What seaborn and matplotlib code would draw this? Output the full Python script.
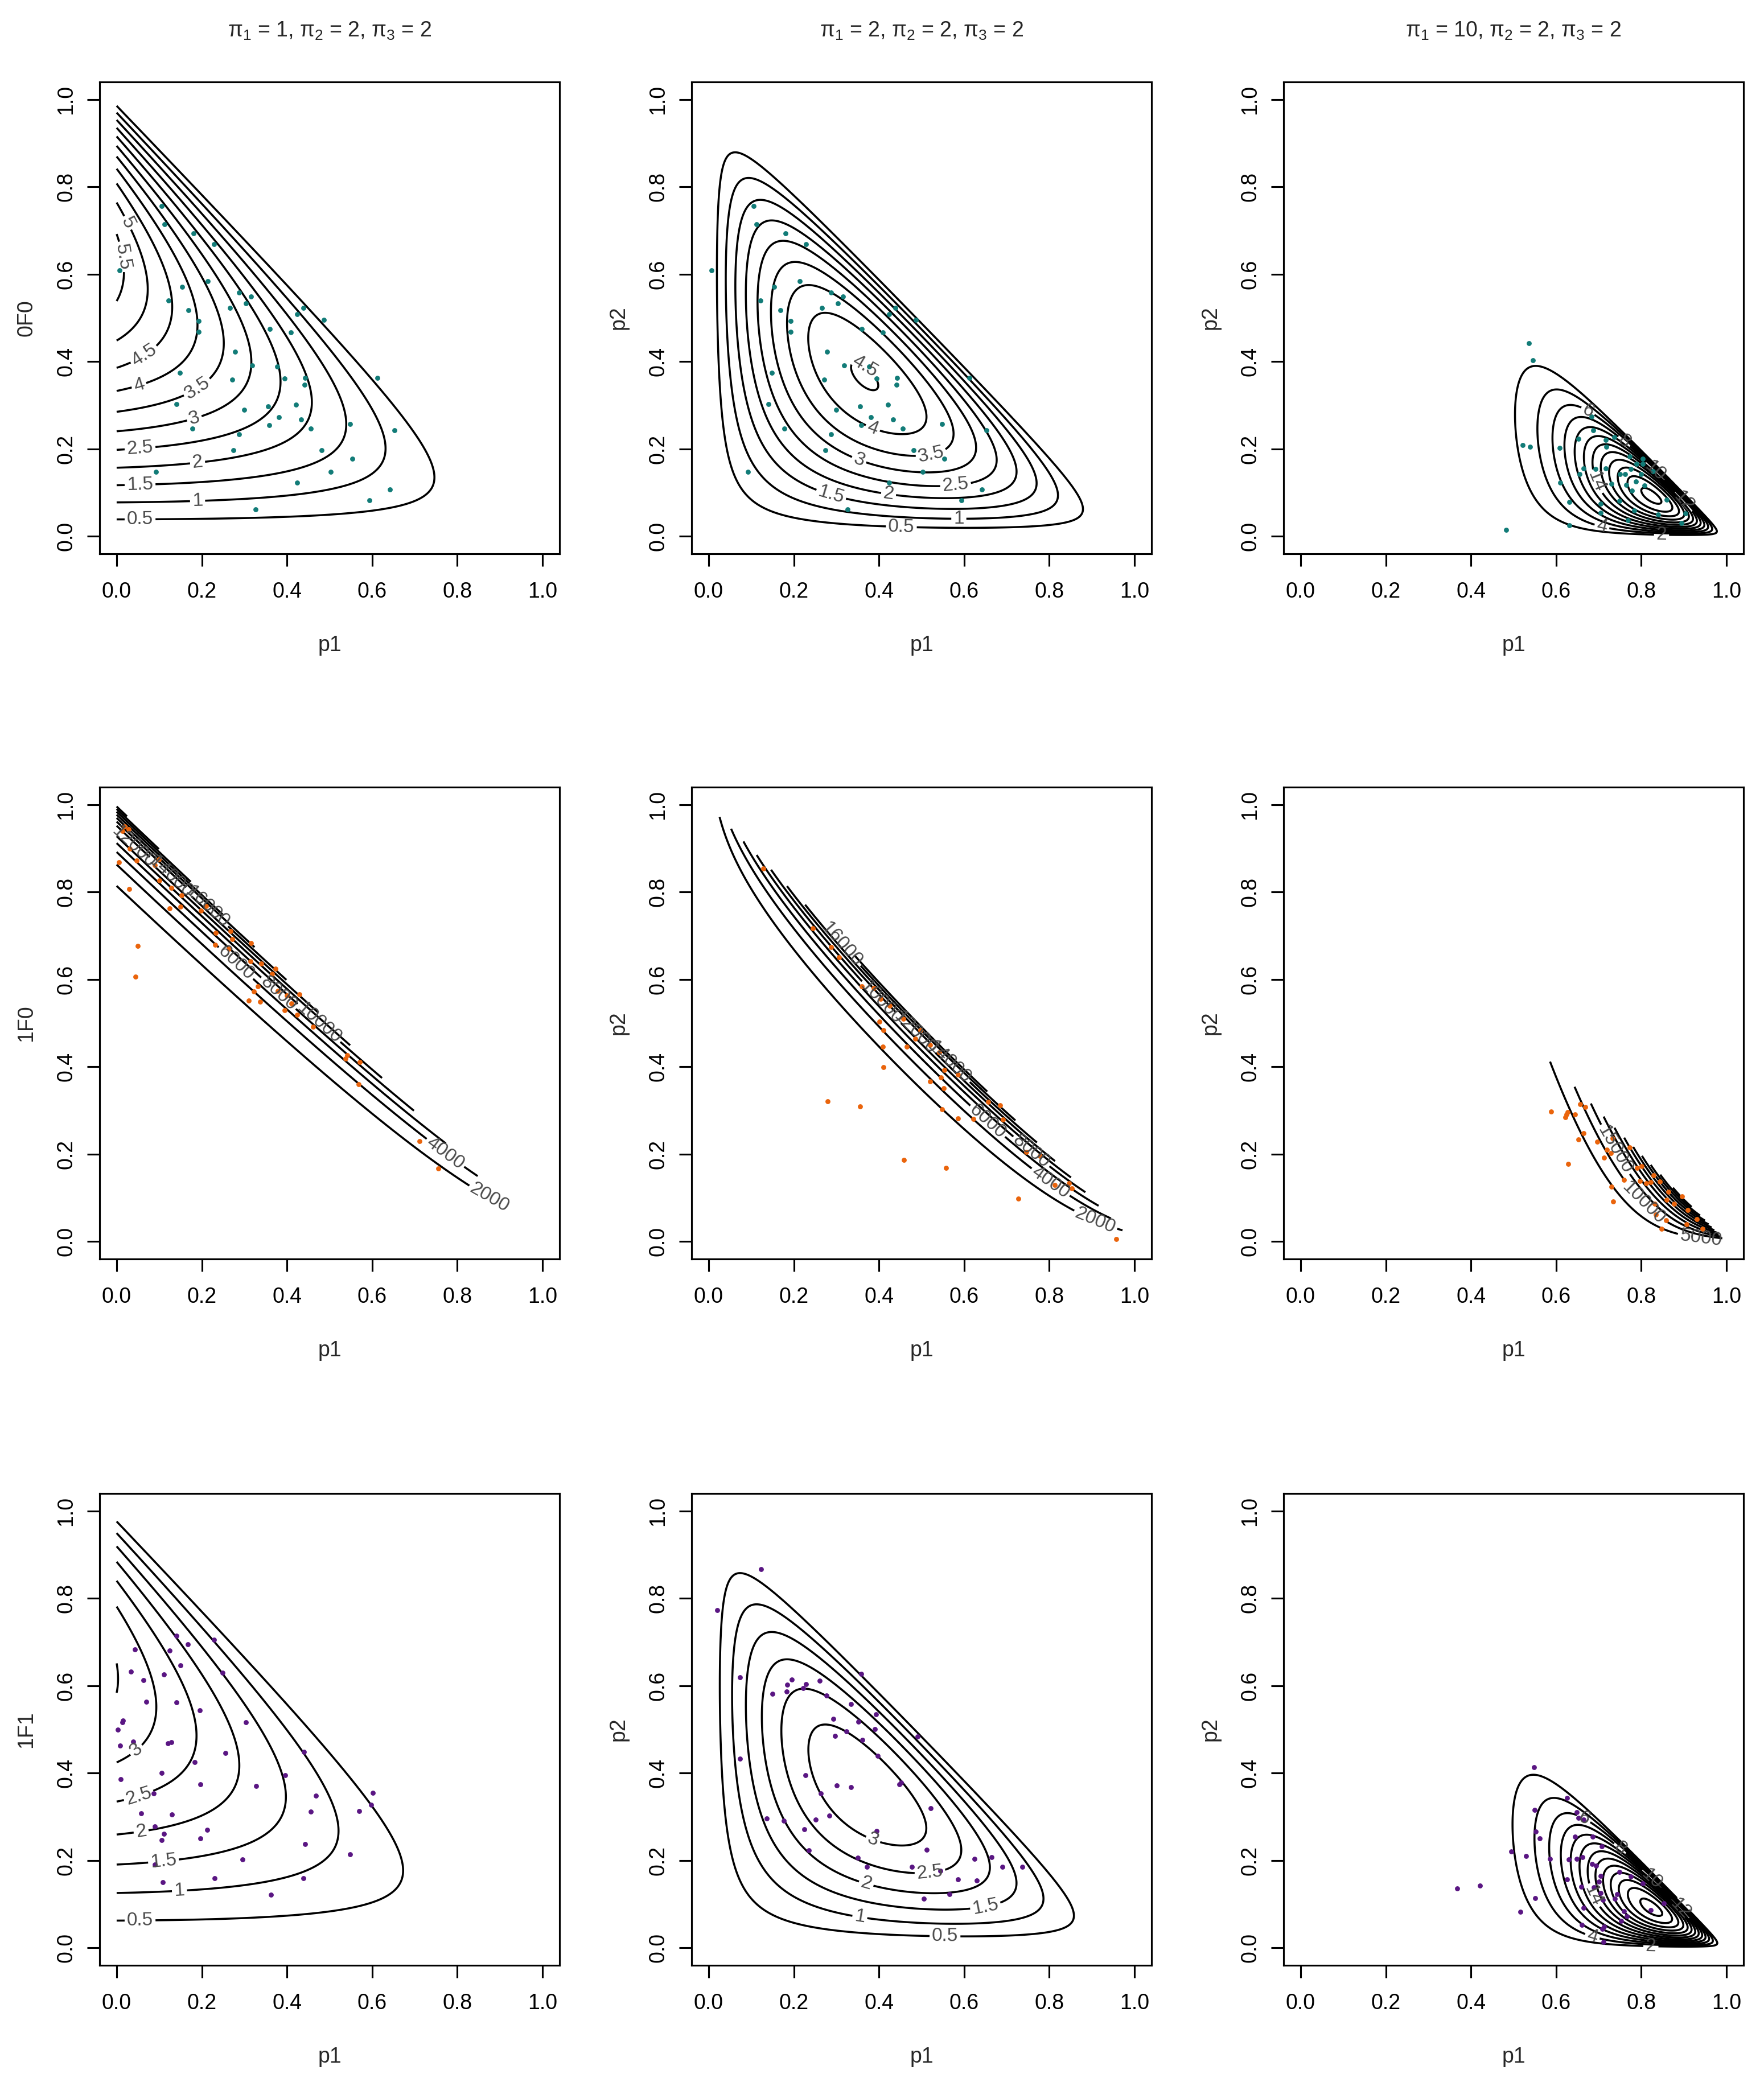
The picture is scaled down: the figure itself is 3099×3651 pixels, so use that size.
import numpy as np
import matplotlib
matplotlib.use("Agg")
import matplotlib.pyplot as plt
from matplotlib.ticker import FormatStrFormatter
import seaborn as sns
from math import gamma

# --------------------------------------------------
# values
# --------------------------------------------------

pi_sets = [(1, 2, 2), (2, 2, 2), (10, 2, 2)]
row_names = ["0F0", "1F0", "1F1"]
row_colors = ["#127C78", "#EA640C", "#5A1683"]

# contour spacing for each panel (rows x columns)
level_steps = [[0.5, 0.5, 2], [2000, 2000, 5000], [0.5, 0.5, 2]]

# 1F0 row: exponential tilt towards the p1 + p2 = 1 edge and overall scale
tilt_1f0 = [13.0, 13.0, 6.0]
scale_1f0 = 13800.0
# 1F1 row: weights of the exp(-p3) tilted Dirichlet kernel
weights_1f1 = [0.91, 1.03, 1.25]

# sampled points, row 1 (same sample in columns 1 and 2)
r1_x = [0.106, 0.113, 0.180, 0.229, 0.007, 0.214, 0.154, 0.122, 0.288, 0.315,
        0.303, 0.266, 0.169, 0.438, 0.424, 0.487, 0.193, 0.193, 0.360, 0.409,
        0.278, 0.318, 0.377, 0.149, 0.271, 0.395, 0.443, 0.441, 0.612, 0.141,
        0.299, 0.356, 0.421, 0.381, 0.433, 0.358, 0.456, 0.178, 0.287, 0.548,
        0.653, 0.274, 0.481, 0.553, 0.092, 0.503, 0.424, 0.642, 0.593, 0.326]
r1_y = [0.756, 0.714, 0.694, 0.669, 0.609, 0.584, 0.571, 0.540, 0.558, 0.549,
        0.533, 0.523, 0.518, 0.523, 0.509, 0.496, 0.493, 0.468, 0.475, 0.467,
        0.423, 0.391, 0.389, 0.374, 0.359, 0.361, 0.362, 0.347, 0.362, 0.303,
        0.290, 0.297, 0.301, 0.273, 0.267, 0.254, 0.247, 0.247, 0.234, 0.257,
        0.243, 0.197, 0.197, 0.178, 0.147, 0.147, 0.123, 0.107, 0.083, 0.061]

r1c3_x = [0.536, 0.546, 0.522, 0.539, 0.608, 0.483, 0.683, 0.687, 0.653, 0.717,
          0.718, 0.736, 0.665, 0.655, 0.693, 0.717, 0.609, 0.631, 0.631, 0.705,
          0.705, 0.730, 0.750, 0.762, 0.764, 0.778, 0.776, 0.787, 0.799, 0.807,
          0.773, 0.789, 0.749, 0.783, 0.769, 0.839, 0.860, 0.903, 0.894, 0.803,
          0.828, 0.804]
r1c3_y = [0.442, 0.403, 0.209, 0.205, 0.202, 0.015, 0.274, 0.243, 0.223, 0.221,
          0.205, 0.227, 0.155, 0.143, 0.154, 0.156, 0.123, 0.078, 0.025, 0.075,
          0.054, 0.120, 0.143, 0.143, 0.118, 0.104, 0.154, 0.126, 0.143, 0.116,
          0.183, 0.166, 0.081, 0.059, 0.037, 0.050, 0.084, 0.052, 0.030, 0.166,
          0.149, 0.178]

r2c1_x = [0.019, 0.013, 0.028, 0.031, 0.005, 0.047, 0.090, 0.099, 0.101, 0.128,
          0.029, 0.153, 0.124, 0.150, 0.198, 0.210, 0.233, 0.232, 0.267, 0.271,
          0.264, 0.050, 0.044, 0.315, 0.314, 0.339, 0.365, 0.373, 0.331, 0.322,
          0.310, 0.337, 0.379, 0.400, 0.410, 0.395, 0.424, 0.461, 0.537, 0.541,
          0.571, 0.568, 0.711, 0.755, 0.429]
r2c1_y = [0.950, 0.940, 0.944, 0.899, 0.868, 0.872, 0.862, 0.874, 0.826, 0.810,
          0.807, 0.793, 0.763, 0.767, 0.757, 0.768, 0.707, 0.679, 0.710, 0.692,
          0.670, 0.676, 0.606, 0.683, 0.642, 0.636, 0.613, 0.625, 0.584, 0.572,
          0.551, 0.549, 0.573, 0.563, 0.545, 0.529, 0.519, 0.491, 0.419, 0.426,
          0.411, 0.360, 0.230, 0.167, 0.566]

r2c2_x = [0.128, 0.245, 0.287, 0.306, 0.359, 0.388, 0.404, 0.425, 0.401, 0.410,
          0.457, 0.497, 0.485, 0.465, 0.409, 0.411, 0.520, 0.542, 0.554, 0.545,
          0.520, 0.552, 0.585, 0.548, 0.585, 0.622, 0.656, 0.684, 0.691, 0.746,
          0.778, 0.280, 0.355, 0.458, 0.558, 0.727, 0.813, 0.846, 0.957, 0.853]
r2c2_y = [0.854, 0.717, 0.674, 0.651, 0.584, 0.580, 0.555, 0.540, 0.503, 0.484,
          0.510, 0.484, 0.464, 0.446, 0.446, 0.399, 0.450, 0.433, 0.393, 0.375,
          0.366, 0.351, 0.382, 0.303, 0.282, 0.280, 0.319, 0.312, 0.279, 0.205,
          0.196, 0.321, 0.309, 0.187, 0.169, 0.098, 0.130, 0.133, 0.005, 0.121]

r2c3_x = [0.588, 0.621, 0.624, 0.627, 0.645, 0.656, 0.669, 0.665, 0.652, 0.628,
          0.696, 0.719, 0.729, 0.713, 0.733, 0.759, 0.730, 0.734, 0.790, 0.801,
          0.797, 0.811, 0.822, 0.829, 0.843, 0.831, 0.834, 0.848, 0.860, 0.864,
          0.877, 0.895, 0.909, 0.906, 0.930, 0.944, 0.858, 0.773]
r2c3_y = [0.298, 0.284, 0.291, 0.296, 0.291, 0.314, 0.308, 0.248, 0.233, 0.178,
          0.228, 0.210, 0.202, 0.192, 0.236, 0.141, 0.126, 0.091, 0.168, 0.173,
          0.138, 0.133, 0.136, 0.152, 0.137, 0.086, 0.061, 0.029, 0.096, 0.114,
          0.086, 0.103, 0.072, 0.040, 0.051, 0.029, 0.048, 0.215]

r3c1_x = [0.140, 0.167, 0.229, 0.043, 0.125, 0.150, 0.249, 0.033, 0.063, 0.111,
          0.069, 0.140, 0.195, 0.304, 0.015, 0.013, 0.003, 0.008, 0.039, 0.120,
          0.129, 0.255, 0.183, 0.440, 0.106, 0.009, 0.197, 0.328, 0.396, 0.087,
          0.468, 0.456, 0.601, 0.598, 0.569, 0.058, 0.130, 0.089, 0.111, 0.106,
          0.196, 0.212, 0.296, 0.443, 0.548, 0.089, 0.109, 0.230, 0.438, 0.362]
r3c1_y = [0.714, 0.695, 0.705, 0.683, 0.681, 0.646, 0.630, 0.632, 0.613, 0.626,
          0.563, 0.562, 0.544, 0.516, 0.520, 0.516, 0.499, 0.463, 0.472, 0.468,
          0.471, 0.446, 0.425, 0.449, 0.400, 0.386, 0.374, 0.370, 0.395, 0.353,
          0.348, 0.312, 0.355, 0.328, 0.313, 0.308, 0.305, 0.278, 0.261, 0.246,
          0.250, 0.270, 0.202, 0.238, 0.214, 0.190, 0.150, 0.159, 0.159, 0.121]

r3c2_x = [0.123, 0.020, 0.073, 0.073, 0.358, 0.195, 0.185, 0.229, 0.261, 0.222,
          0.150, 0.183, 0.277, 0.334, 0.393, 0.293, 0.351, 0.390, 0.323, 0.297,
          0.361, 0.490, 0.397, 0.227, 0.301, 0.334, 0.263, 0.448, 0.452, 0.522,
          0.283, 0.251, 0.137, 0.176, 0.225, 0.394, 0.236, 0.512, 0.350, 0.372,
          0.477, 0.544, 0.624, 0.664, 0.690, 0.736, 0.585, 0.629, 0.565, 0.506]
r3c2_y = [0.867, 0.773, 0.619, 0.433, 0.627, 0.614, 0.602, 0.604, 0.611, 0.595,
          0.581, 0.586, 0.577, 0.558, 0.534, 0.524, 0.518, 0.501, 0.495, 0.485,
          0.476, 0.484, 0.439, 0.395, 0.372, 0.368, 0.354, 0.374, 0.378, 0.320,
          0.303, 0.294, 0.296, 0.291, 0.271, 0.268, 0.223, 0.225, 0.206, 0.185,
          0.185, 0.176, 0.204, 0.208, 0.185, 0.185, 0.157, 0.154, 0.123, 0.113]

r3c3_x = [0.548, 0.626, 0.549, 0.649, 0.653, 0.664, 0.552, 0.562, 0.495, 0.529,
          0.586, 0.645, 0.686, 0.707, 0.629, 0.648, 0.662, 0.684, 0.694, 0.705,
          0.701, 0.626, 0.659, 0.688, 0.704, 0.710, 0.551, 0.516, 0.368, 0.421,
          0.664, 0.661, 0.708, 0.712, 0.711, 0.748, 0.776, 0.738, 0.743, 0.759,
          0.766, 0.753, 0.822, 0.804, 0.853]
r3c3_y = [0.413, 0.343, 0.316, 0.310, 0.298, 0.294, 0.266, 0.251, 0.220, 0.210,
          0.204, 0.255, 0.254, 0.232, 0.202, 0.204, 0.208, 0.192, 0.188, 0.165,
          0.152, 0.157, 0.140, 0.138, 0.126, 0.110, 0.114, 0.083, 0.136, 0.143,
          0.091, 0.053, 0.044, 0.049, 0.014, 0.174, 0.163, 0.113, 0.123, 0.084,
          0.072, 0.062, 0.086, 0.147, 0.102]

points = [[(r1_x, r1_y), (r1_x, r1_y), (r1c3_x, r1c3_y)],
          [(r2c1_x, r2c1_y), (r2c2_x, r2c2_y), (r2c3_x, r2c3_y)],
          [(r3c1_x, r3c1_y), (r3c2_x, r3c2_y), (r3c3_x, r3c3_y)]]

# --------------------------------------------------
# densities on the simplex
# --------------------------------------------------

g = np.linspace(0, 1, 401)
P1, P2 = np.meshgrid(g, g)
P3 = 1 - P1 - P2
inside = P3 > 1e-9
P3s = np.where(inside, P3, 0.5)


def hyp1f1(a, b, z, n=80):
    term, total = 1.0, 1.0
    for k in range(n):
        term *= (a + k) / (b + k) * z / (k + 1)
        total += term
    return total


def density(row, col):
    a1, a2, a3 = pi_sets[col]
    if row == 1:
        c = gamma(a1 + a2) / (gamma(a1) * gamma(a2))
        z = scale_1f0 * c * P1 ** (a1 - 1) * P2 ** (a2 - 1) * np.exp(-tilt_1f0[col] * P3s)
    else:
        c = gamma(a1 + a2 + a3) / (gamma(a1) * gamma(a2) * gamma(a3))
        z = c * P1 ** (a1 - 1) * P2 ** (a2 - 1) * P3s ** (a3 - 1) * np.exp(-P3s)
        if row == 0:
            z = z / hyp1f1(a3, a1 + a2 + a3, -1.0)
        else:
            z = z * weights_1f1[col]
    return np.where(inside, z, np.nan)


# label spots: flattest part of each contour, leftmost first, no overlaps
def label_spots(ax, cs, min_dx=100, min_dy=52, end_gap=40, win=8):
    placed, spots = [], []
    for segs in cs.allsegs:
        cands = []
        for seg in segs:
            if len(seg) < 2 * win + 3:
                continue
            d = ax.transData.transform(seg)
            s = np.concatenate([[0], np.cumsum(np.hypot(*np.diff(d, axis=0).T))])
            if s[-1] < 2 * end_gap + 20:
                continue
            i = np.arange(win, len(d) - win)
            v = d[i + win] - d[i - win]
            ang = np.abs(np.degrees(np.arctan2(v[:, 1], v[:, 0])))
            ang = np.minimum(ang, 180 - ang)
            a1 = np.arctan2(*(d[i] - d[i - win]).T[::-1])
            a2 = np.arctan2(*(d[i + win] - d[i]).T[::-1])
            curv = np.abs(np.degrees(np.angle(np.exp(1j * (a2 - a1)))))
            ok = (s[i] > end_gap) & (s[-1] - s[i] > end_gap)
            for k in np.where(ok)[0]:
                j = i[k]
                cands.append((round((ang[k] + 3 * curv[k]) / 5), d[j][0], d[j], seg[j]))
        cands.sort(key=lambda t: (t[0], t[1]))
        for _, _, dp, pt in cands:
            if all(abs(dp[0] - q[0]) >= min_dx or abs(dp[1] - q[1]) >= min_dy for q in placed):
                placed.append(dp)
                spots.append(tuple(pt))
                break
    return spots


# --------------------------------------------------
# plotting
# --------------------------------------------------

sns.set_style("ticks")
plt.rcParams["font.family"] = ["Liberation Sans", "DejaVu Sans"]
plt.rcParams.update({
    "mathtext.default": "regular",
    "axes.linewidth": 0.75,
    "xtick.major.size": 5.3, "ytick.major.size": 5.3,
    "xtick.major.width": 0.75, "ytick.major.width": 0.75,
    "xtick.direction": "out", "ytick.direction": "out",
    "xtick.color": "black", "ytick.color": "black",
    "axes.edgecolor": "black",
})

W, H = 3099, 3651
fig = plt.figure(figsize=(W / 300, H / 300), dpi=300)
lefts = [175, 1215, 2255]
tops = [144, 1383, 2624]
aw, ah = 808, 829

for r in range(3):
    for c in range(3):
        ax = fig.add_axes([lefts[c] / W, 1 - (tops[r] + ah) / H, aw / W, ah / H])
        ax.set_xlim(-0.04, 1.04)
        ax.set_ylim(-0.04, 1.04)

        z = density(r, c)
        step = level_steps[r][c]
        levels = np.arange(step, np.nanmax(z), step)
        cs = ax.contour(g, g, z, levels=levels, colors="black", linewidths=0.85)
        ax.clabel(cs, fmt="%g", fontsize=8, colors="#4a4a4a", inline=True,
                  inline_spacing=4, manual=label_spots(ax, cs))

        px, py = points[r][c]
        sns.scatterplot(x=px, y=py, ax=ax, color=row_colors[r], s=4.5,
                        linewidth=0, legend=False, zorder=3)

        ticks = np.arange(0, 1.01, 0.2)
        ax.set_xticks(ticks)
        ax.set_yticks(ticks)
        ax.xaxis.set_major_formatter(FormatStrFormatter("%.1f"))
        ax.yaxis.set_major_formatter(FormatStrFormatter("%.1f"))
        ax.tick_params(axis="x", labelsize=9, pad=6.5)
        ax.tick_params(axis="y", labelsize=9, pad=4.5)
        for lab in ax.get_yticklabels():
            lab.set_rotation(90)
            lab.set_va("center")

        ax.set_xlabel("p1", fontsize=9)
        ax.xaxis.set_label_coords(0.5, -0.172)
        ax.set_ylabel(row_names[r] if c == 0 else "p2", fontsize=9)
        ax.yaxis.set_label_coords(-0.137, 0.5)

        if r == 0:
            a1, a2, a3 = pi_sets[c]
            ax.set_title(rf"$\pi_1$ = {a1}, $\pi_2$ = {a2}, $\pi_3$ = {a3}",
                         fontsize=9, pad=19)

fig.savefig("out.png", dpi=300)
